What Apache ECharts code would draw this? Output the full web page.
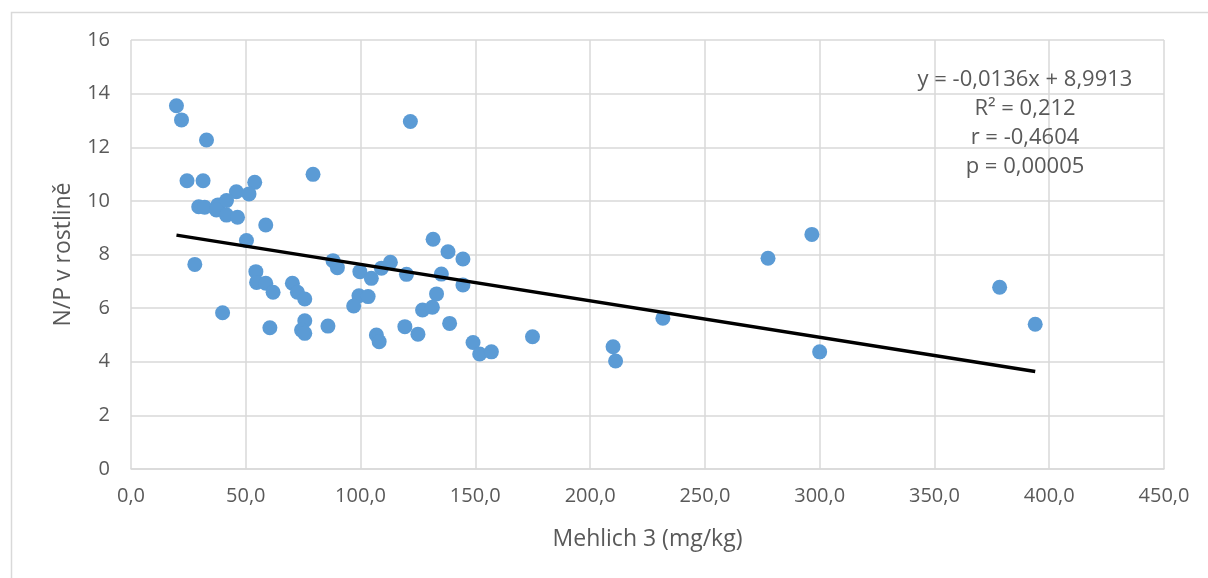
<!DOCTYPE html>
<html>
<head>
<meta charset="utf-8">
<script src="https://cdn.jsdelivr.net/npm/echarts@6/dist/echarts.min.js"></script>
<style>
html,body{margin:0;padding:0;background:#fff;}
#chart{width:1208px;height:578px;}
</style>
</head>
<body>
<div id="chart"></div>
<script>
// Mehlich 3 (mg/kg) values
const mehlichX = [19.8, 22.0, 32.9, 24.4, 31.4, 79.3, 53.9, 45.9, 51.4, 29.5,
  32.1, 37.9, 41.6, 37.2, 41.6, 46.4, 58.7, 50.3, 27.8, 39.9,
  54.4, 54.7, 58.7, 61.9, 60.5, 70.3, 72.5, 75.7, 75.7, 74.3,
  75.7, 85.8, 88.0, 89.9, 99.7, 104.7, 109.1, 113.0, 120.0, 99.3,
  103.3, 97.0, 131.6, 138.1, 144.6, 135.2, 144.6, 133.1, 127.0, 131.3,
  138.8, 119.3, 125.0, 106.9, 108.1, 149.0, 151.9, 157.0, 174.9, 210.0,
  211.1, 231.7, 277.5, 296.6, 300.0, 378.4, 393.9, 121.7];
// N/P in plant values
const npY = [13.55, 13.02, 12.27, 10.75, 10.75, 10.99, 10.69, 10.34, 10.26, 9.78,
  9.76, 9.85, 10.01, 9.66, 9.47, 9.39, 9.10, 8.52, 7.63, 5.83,
  7.36, 6.96, 6.93, 6.59, 5.27, 6.93, 6.59, 6.34, 5.53, 5.18,
  5.06, 5.33, 7.77, 7.51, 7.36, 7.11, 7.49, 7.71, 7.26, 6.46,
  6.43, 6.08, 8.57, 8.10, 7.83, 7.27, 6.86, 6.53, 5.93, 6.03,
  5.43, 5.31, 5.03, 5.00, 4.75, 4.72, 4.29, 4.37, 4.93, 4.56,
  4.03, 5.62, 7.86, 8.75, 4.37, 6.78, 5.40, 12.96];
// Trendline coefficients (as shown in the chart)
const SLOPE = -0.0136;
const INTERCEPT = 8.9913;
// Annotation lines
const annotationLines = ['y = -0,0136x + 8,9913', 'R² = 0,212', 'r = -0,4604', 'p = 0,00005'];
const xAxisTitle = 'Mehlich 3 (mg/kg)';
const yAxisTitle = 'N/P v rostlině';

const points = mehlichX.map((x, i) => [x, npY[i]]);
const xMin = Math.min(...mehlichX), xMax = Math.max(...mehlichX);
const trend = [[xMin, SLOPE * xMin + INTERCEPT], [xMax, SLOPE * xMax + INTERCEPT]];

const FONT = 'Open Sans';
const TXT = '#595959';
const chart = echarts.init(document.getElementById('chart'), null, {renderer: 'canvas'});
chart.setOption({
  animation: false,
  backgroundColor: '#ffffff',
  grid: {left: 131, right: 44, top: 40, bottom: 109, containLabel: false},
  xAxis: {
    type: 'value', min: 0, max: 450, interval: 50,
    name: xAxisTitle, nameLocation: 'middle', nameGap: 59,
    nameTextStyle: {color: TXT, fontFamily: FONT, fontSize: 23},
    axisLine: {show: true, onZero: false, lineStyle: {color: '#D9D9D9', width: 1.5}},
    axisTick: {show: false},
    axisLabel: {color: TXT, fontFamily: FONT, fontSize: 20, margin: 17,
      formatter: v => v.toFixed(1).replace('.', ',')},
    splitLine: {show: true, lineStyle: {color: '#D9D9D9', width: 1.5}}
  },
  yAxis: {
    type: 'value', min: 0, max: 16, interval: 2,
    name: yAxisTitle, nameLocation: 'middle', nameGap: 56, nameRotate: 90,
    nameTextStyle: {color: TXT, fontFamily: FONT, fontSize: 23},
    axisLine: {show: false},
    axisTick: {show: false},
    axisLabel: {color: TXT, fontFamily: FONT, fontSize: 20, margin: 21},
    splitLine: {show: true, lineStyle: {color: '#D9D9D9', width: 1.5}}
  },
  series: [
    {type: 'scatter', data: points, symbol: 'circle', symbolSize: 15,
      itemStyle: {color: '#5B9BD5', opacity: 1}, z: 2},
    {type: 'line', data: trend, showSymbol: false, symbol: 'none',
      lineStyle: {color: '#000000', width: 3.5}, z: 3, silent: true}
  ],
  graphic: [
    {type: 'rect', shape: {x: 11.5, y: 12.5, width: 1400, height: 800},
      style: {fill: 'none', stroke: '#D9D9D9', lineWidth: 1.5}, z: -10, silent: true},
    ...annotationLines.map((t, i) => ({
      type: 'text', x: 1025, y: 80 + i * 29, z: 10,
      style: {text: t, fill: TXT, font: '22px "' + FONT + '"', textAlign: 'center', textVerticalAlign: 'middle'}
    }))
  ]
});
</script>
</body>
</html>
